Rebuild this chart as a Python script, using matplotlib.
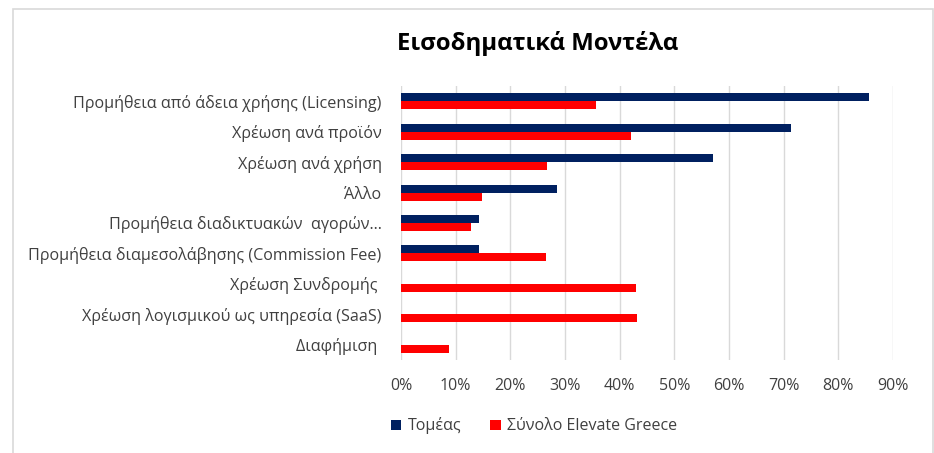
import matplotlib.pyplot as plt
from matplotlib.patches import Rectangle
from matplotlib.ticker import MultipleLocator, PercentFormatter

plt.rcParams['font.family'] = ['Open Sans', 'DejaVu Sans']

categories = [
    'Προμήθεια από άδεια χρήσης (Licensing)',
    'Χρέωση ανά προϊόν',
    'Χρέωση ανά χρήση',
    'Άλλο',
    'Προμήθεια διαδικτυακών  αγορών…',
    'Προμήθεια διαμεσολάβησης (Commission Fee)',
    'Χρέωση Συνδρομής ',
    'Χρέωση λογισμικού ως υπηρεσία (SaaS)',
    'Διαφήμιση ',
]
sector = [0.857, 0.714, 0.571, 0.286, 0.143, 0.143, 0.0, 0.0, 0.0]
elevate_total = [0.356, 0.421, 0.267, 0.149, 0.128, 0.265, 0.430, 0.432, 0.087]
series_names = ['Τομέας', 'Σύνολο Elevate Greece']

NAVY = '#002060'
RED = '#ff0000'
TEXT = '#404040'
GRID = '#d9d9d9'

fig = plt.figure(figsize=(9.34, 4.53), dpi=100)
ax = fig.add_axes([401 / 934, 1 - 360 / 453, 492 / 934, 274 / 453])

# chart frame
fig.patches.append(Rectangle((12.5 / 934, -0.05), 920 / 934, 1.05 - 9.5 / 453,
                             transform=fig.transFigure, fill=False,
                             edgecolor=GRID, linewidth=1.2))

bar_h = 0.263
pos = list(range(len(categories)))
ax.barh([p - bar_h / 2 for p in pos], sector, height=bar_h, color=NAVY,
        label=series_names[0], zorder=3)
ax.barh([p + bar_h / 2 for p in pos], elevate_total, height=bar_h, color=RED,
        label=series_names[1], zorder=3)

ax.set_ylim(len(categories) - 0.5, -0.5)
ax.set_yticks(pos)
ax.set_yticklabels(categories, fontsize=11.6, color=TEXT)
ax.set_xlim(0, 0.9)
ax.xaxis.set_major_locator(MultipleLocator(0.1))
ax.xaxis.set_major_formatter(PercentFormatter(1.0, decimals=0))
ax.tick_params(axis='x', labelsize=11.5, colors=TEXT, length=0, pad=13)
ax.tick_params(axis='y', length=0, pad=14)
ax.grid(axis='x', color=GRID, linewidth=1, zorder=0)
for s in ax.spines.values():
    s.set_visible(False)

fig.text(538 / 934, 1 - 44 / 453, 'Εισοδηματικά Μοντέλα', ha='center',
         va='center', fontsize=17.2, fontweight='bold', color='black')

fig.legend(loc='center', bbox_to_anchor=(534 / 934, 1 - 426 / 453), ncol=2,
           frameon=False, fontsize=11.5, handlelength=0.65, handleheight=0.65,
           columnspacing=1.8, handletextpad=0.4, labelcolor=TEXT)

fig.savefig('out.png', dpi=100, facecolor='white')
